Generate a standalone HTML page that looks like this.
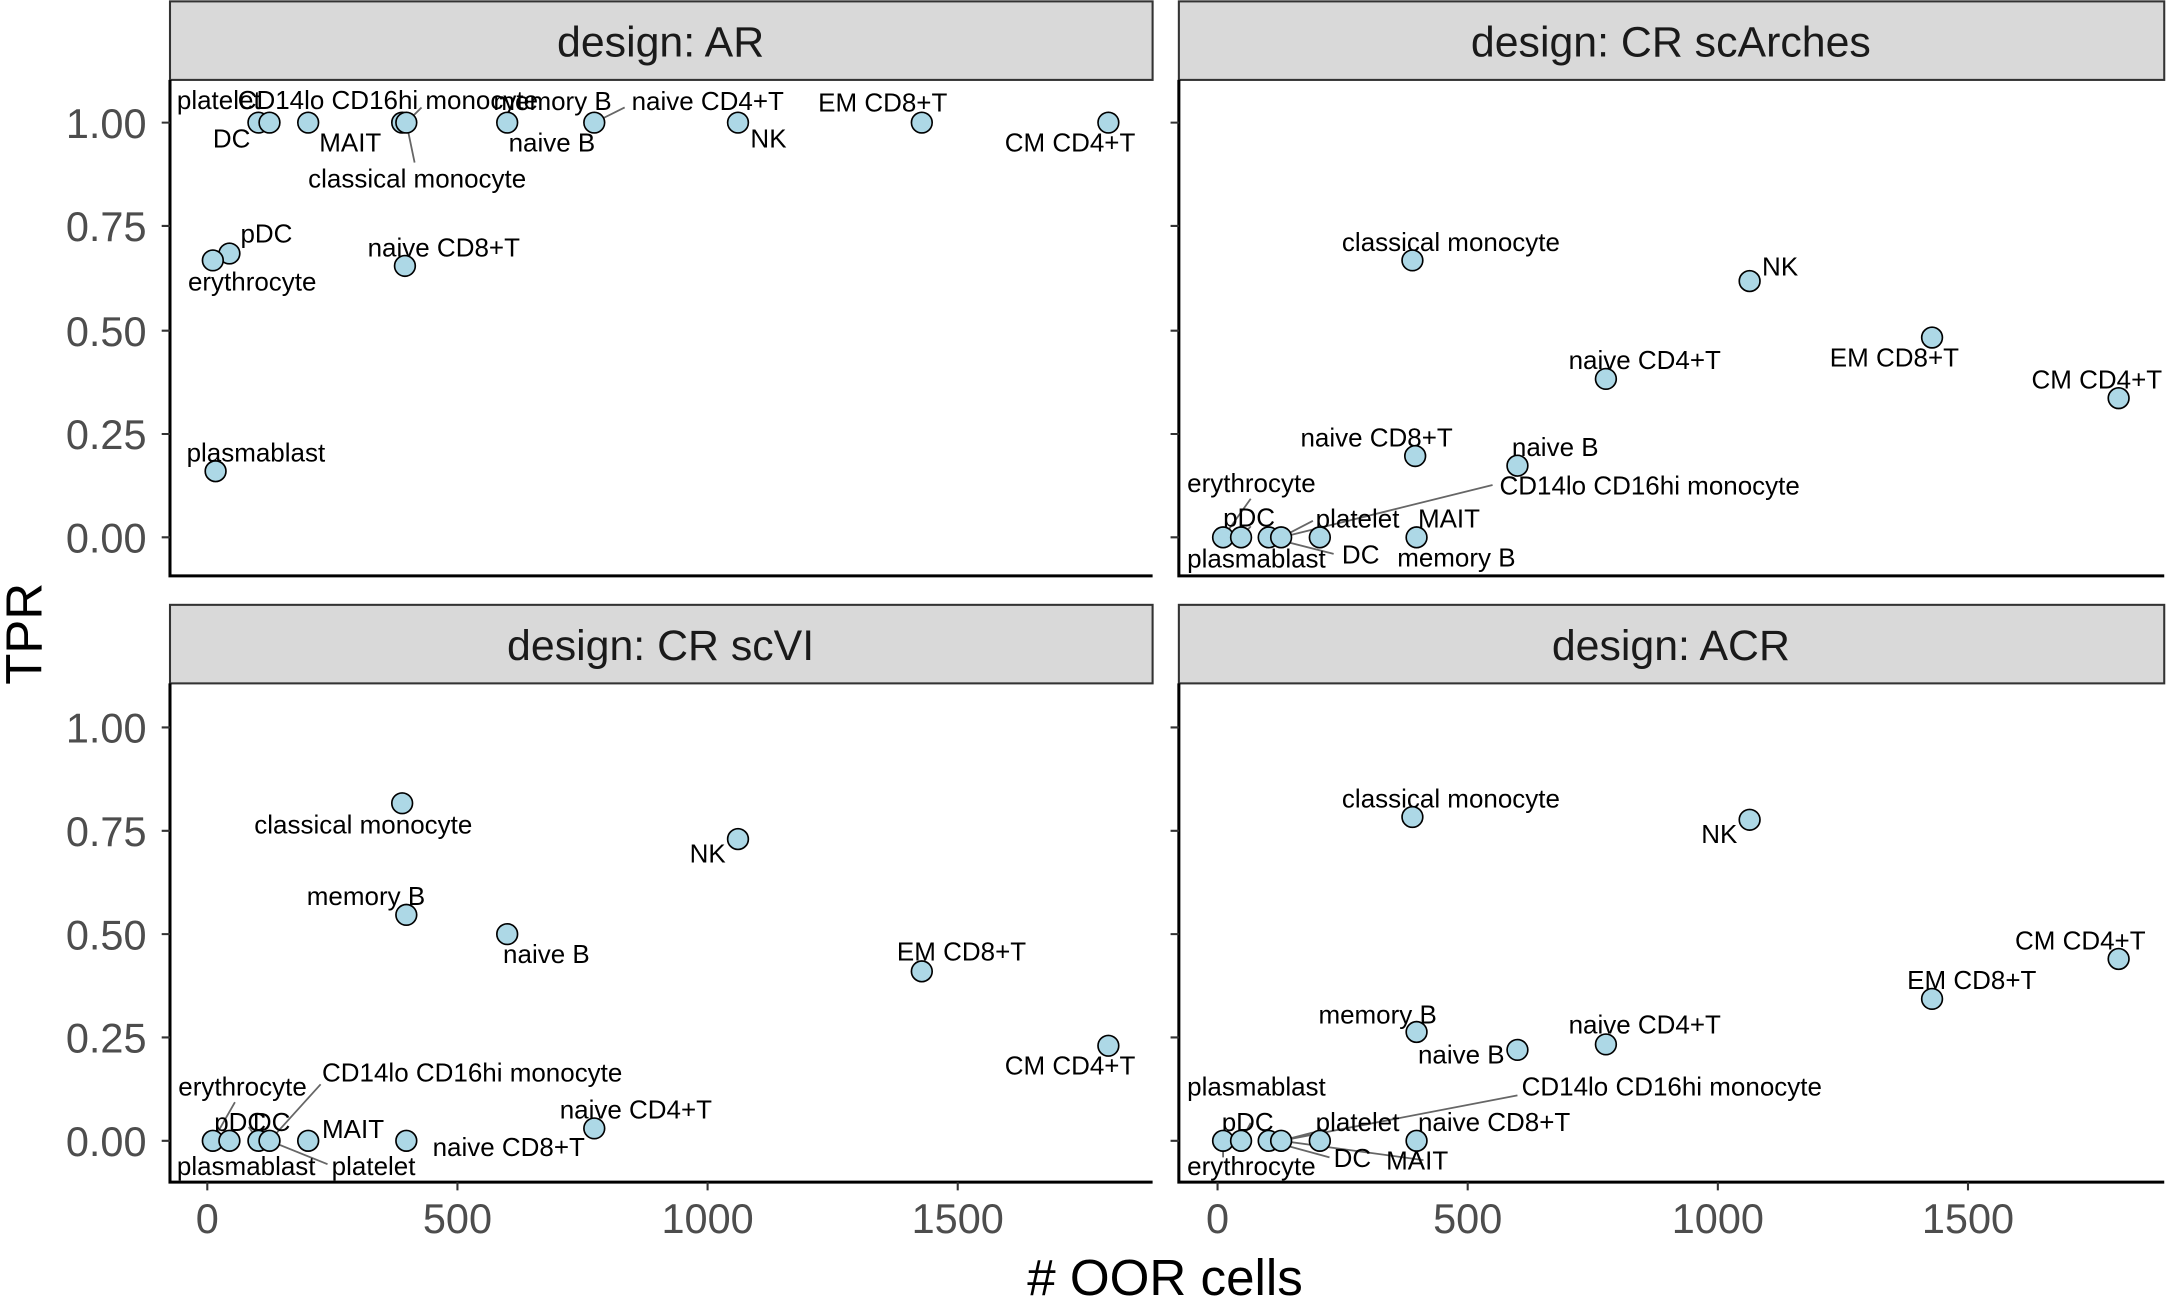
<!DOCTYPE html>
<html><head><meta charset="utf-8"><style>
html,body{margin:0;padding:0;background:#fff;}
svg{display:block;}
text{font-family:"Liberation Sans",Arial,sans-serif;}
.l{font-size:18.8px;fill:#000;}
.t{font-size:30px;fill:#4d4d4d;}
.s{font-size:31px;fill:#1a1a1a;}
.a{font-size:37px;fill:#000;}
circle{fill:#add8e6;stroke:#000;stroke-width:1.2;}
.ln{stroke:#666;stroke-width:1.3;}
</style></head><body>
<svg width="2167" height="1302" viewBox="0 0 1568 945" preserveAspectRatio="none" xmlns="http://www.w3.org/2000/svg">
<g fill="#d9d9d9" stroke="#333" stroke-width="1.5">
<rect x="123" y="1" width="711" height="57"/>
<rect x="853" y="1" width="713" height="57"/>
<rect x="123" y="439" width="711" height="57"/>
<rect x="853" y="439" width="713" height="57"/>
</g>
<text class="s" x="478" y="41" text-anchor="middle">design: AR</text>
<text class="s" x="1209" y="41" text-anchor="middle">design: CR scArches</text>
<text class="s" x="478" y="479" text-anchor="middle">design: CR scVI</text>
<text class="s" x="1209" y="479" text-anchor="middle">design: ACR</text>
<g stroke="#000" stroke-width="2.2" fill="none">
<path d="M123 58V418H834"/>
<path d="M853 58V418H1566"/>
<path d="M123 496V858H834"/>
<path d="M853 496V858H1566"/>
</g>
<g stroke="#333" stroke-width="1.5">
<path d="M117 89H123M117 164H123M117 240H123M117 315H123M117 390H123"/>
<path d="M847 89H853M847 164H853M847 240H853M847 315H853M847 390H853"/>
<path d="M117 528H123M117 603H123M117 678H123M117 753H123M117 828H123"/>
<path d="M847 528H853M847 603H853M847 678H853M847 753H853M847 828H853"/>
<path d="M150 858V864M331 858V864M512 858V864M693 858V864"/>
<path d="M881 858V864M1062 858V864M1243 858V864M1424 858V864"/>
</g>
<g class="t" text-anchor="end">
<text x="106" y="100">1.00</text><text x="106" y="175">0.75</text><text x="106" y="251">0.50</text><text x="106" y="326">0.25</text><text x="106" y="401">0.00</text>
<text x="106" y="539">1.00</text><text x="106" y="614">0.75</text><text x="106" y="689">0.50</text><text x="106" y="764">0.25</text><text x="106" y="839">0.00</text>
</g>
<g class="t" text-anchor="middle">
<text x="150" y="895">0</text><text x="331" y="895">500</text><text x="512" y="895">1000</text><text x="693" y="895">1500</text>
<text x="881" y="895">0</text><text x="1062" y="895">500</text><text x="1243" y="895">1000</text><text x="1424" y="895">1500</text>
</g>
<text class="a" x="843" y="940" text-anchor="middle"># OOR cells</text>
<text class="a" transform="translate(30,460) rotate(-90)" text-anchor="middle">TPR</text>

<g class="ln"><path d="M294 89L305 78M294 89L300 118M430 89L452 78"/></g>
<g class="l">
<text x="128" y="79">platelet</text><text x="172" y="79">CD14lo CD16hi monocyte</text>
<text x="154" y="107">DC</text><text x="231" y="110">MAIT</text>
<text x="357" y="80">memory B</text><text x="457" y="80">naive CD4+T</text>
<text x="368" y="110">naive B</text><text x="543" y="107">NK</text>
<text x="592" y="81">EM CD8+T</text><text x="727" y="110">CM CD4+T</text>
<text x="223" y="136">classical monocyte</text>
<text x="174" y="176">pDC</text><text x="136" y="211">erythrocyte</text>
<text x="266" y="186">naive CD8+T</text><text x="135" y="335">plasmablast</text>
</g>
<g>
<circle cx="187" cy="89" r="7.5"/><circle cx="195" cy="89" r="7.5"/><circle cx="223" cy="89" r="7.5"/>
<circle cx="291" cy="89" r="7.5"/><circle cx="294" cy="89" r="7.5"/><circle cx="367" cy="89" r="7.5"/>
<circle cx="430" cy="89" r="7.5"/><circle cx="534" cy="89" r="7.5"/><circle cx="667" cy="89" r="7.5"/>
<circle cx="802" cy="89" r="7.5"/><circle cx="166" cy="184" r="7.5"/><circle cx="154" cy="189" r="7.5"/>
<circle cx="293" cy="193" r="7.5"/><circle cx="156" cy="342" r="7.5"/>
</g>

<g class="ln"><path d="M927 390L1080 352M885 390L905 362M898 390L905 382M927 390L950 378M918 390L965 402M1025 390L1030 396"/></g>
<g class="l">
<text x="971" y="182">classical monocyte</text><text x="1275" y="200">NK</text>
<text x="1324" y="266">EM CD8+T</text><text x="1470" y="282">CM CD4+T</text>
<text x="1135" y="268">naive CD4+T</text><text x="941" y="324">naive CD8+T</text>
<text x="1094" y="331">naive B</text><text x="859" y="357">erythrocyte</text>
<text x="1085" y="359">CD14lo CD16hi monocyte</text>
<text x="885" y="382">pDC</text><text x="952" y="383">platelet</text><text x="1026" y="383">MAIT</text>
<text x="859" y="412">plasmablast</text><text x="971" y="409">DC</text><text x="1011" y="411">memory B</text>
</g>
<g>
<circle cx="1022" cy="189" r="7.5"/><circle cx="1266" cy="204" r="7.5"/><circle cx="1398" cy="245" r="7.5"/>
<circle cx="1533" cy="289" r="7.5"/><circle cx="1162" cy="275" r="7.5"/><circle cx="1024" cy="331" r="7.5"/>
<circle cx="1098" cy="338" r="7.5"/><circle cx="885" cy="390" r="7.5"/><circle cx="898" cy="390" r="7.5"/>
<circle cx="918" cy="390" r="7.5"/><circle cx="927" cy="390" r="7.5"/><circle cx="955" cy="390" r="7.5"/>
<circle cx="1025" cy="390" r="7.5"/>
</g>

<g class="ln"><path d="M154 828L170 800M195 828L232 787M187 828L180 818M195 828L237 845"/></g>
<g class="l">
<text x="184" y="605">classical monocyte</text><text x="499" y="626">NK</text>
<text x="222" y="657">memory B</text><text x="364" y="699">naive B</text>
<text x="649" y="697">EM CD8+T</text><text x="727" y="780">CM CD4+T</text>
<text x="405" y="812">naive CD4+T</text><text x="129" y="795">erythrocyte</text>
<text x="233" y="785">CD14lo CD16hi monocyte</text>
<text x="155" y="821">pDC</text><text x="183" y="821">DC</text><text x="233" y="826">MAIT</text>
<text x="313" y="839">naive CD8+T</text>
<text x="128" y="853">plasmablast</text><text x="240" y="853">platelet</text>
</g>
<g>
<circle cx="291" cy="583" r="7.5"/><circle cx="534" cy="609" r="7.5"/><circle cx="294" cy="664" r="7.5"/>
<circle cx="367" cy="678" r="7.5"/><circle cx="667" cy="705" r="7.5"/><circle cx="802" cy="759" r="7.5"/>
<circle cx="430" cy="819" r="7.5"/><circle cx="154" cy="828" r="7.5"/><circle cx="166" cy="828" r="7.5"/>
<circle cx="187" cy="828" r="7.5"/><circle cx="195" cy="828" r="7.5"/><circle cx="223" cy="828" r="7.5"/>
<circle cx="294" cy="828" r="7.5"/>
</g>

<g class="ln"><path d="M927 828L1098 795M898 828L905 815M927 828L950 822M918 828L962 840M927 828L1030 842M885 828L885 840"/></g>
<g class="l">
<text x="971" y="586">classical monocyte</text><text x="1231" y="612">NK</text>
<text x="1458" y="689">CM CD4+T</text><text x="1380" y="718">EM CD8+T</text>
<text x="954" y="743">memory B</text><text x="1026" y="772">naive B</text>
<text x="1135" y="750">naive CD4+T</text><text x="859" y="795">plasmablast</text>
<text x="1101" y="795">CD14lo CD16hi monocyte</text>
<text x="884" y="821">pDC</text><text x="952" y="821">platelet</text><text x="1026" y="821">naive CD8+T</text>
<text x="965" y="847">DC</text><text x="1003" y="849">MAIT</text><text x="859" y="853">erythrocyte</text>
</g>
<g>
<circle cx="1022" cy="593" r="7.5"/><circle cx="1266" cy="595" r="7.5"/><circle cx="1533" cy="696" r="7.5"/>
<circle cx="1398" cy="725" r="7.5"/><circle cx="1025" cy="749" r="7.5"/><circle cx="1098" cy="762" r="7.5"/>
<circle cx="1162" cy="758" r="7.5"/><circle cx="885" cy="828" r="7.5"/><circle cx="898" cy="828" r="7.5"/>
<circle cx="918" cy="828" r="7.5"/><circle cx="927" cy="828" r="7.5"/><circle cx="955" cy="828" r="7.5"/>
<circle cx="1025" cy="828" r="7.5"/>
</g>
</svg>
</body></html>
